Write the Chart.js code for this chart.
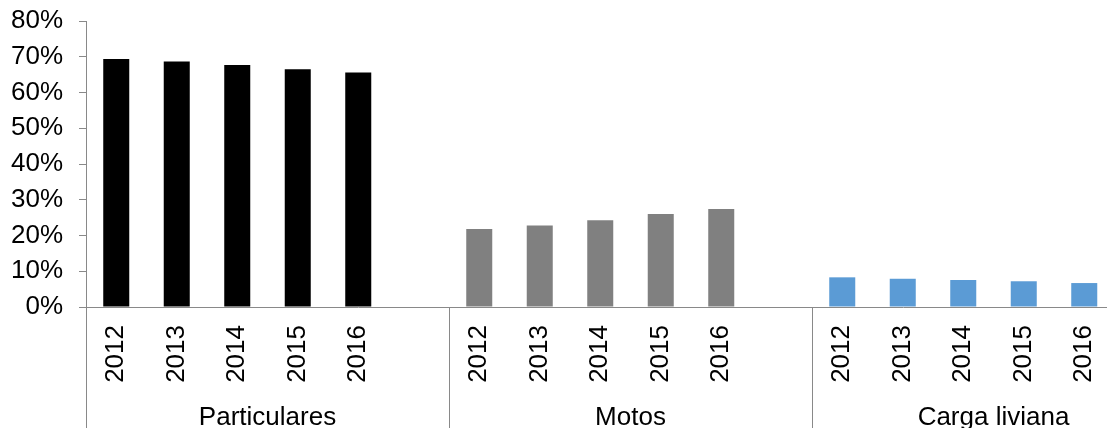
<!DOCTYPE html>
<html>
<head>
<meta charset="utf-8">
<script src="https://cdn.jsdelivr.net/npm/chart.js@4/dist/chart.umd.min.js"></script>
<style>
  html, body { margin: 0; padding: 0; background: #fff; overflow: hidden; }
  #wrap { width: 1175px; height: 428px; position: relative; }
</style>
</head>
<body>
<div id="wrap"><canvas id="c"></canvas></div>
<script>
const years = ['2012', '2013', '2014', '2015', '2016'];
const groups = ['Particulares', 'Motos', 'Carga liviana'];
const particulares = [69.4, 68.7, 67.7, 66.5, 65.6];
const motos = [21.8, 22.8, 24.3, 26.0, 27.4];
const cargaLiviana = [8.3, 7.9, 7.55, 7.2, 6.7];
const groupColors = ['#000000', '#808080', '#5B9BD5'];
const yTicks = [0, 10, 20, 30, 40, 50, 60, 70, 80];

const seriesByGroup = [particulares, motos, cargaLiviana];
const labels = [];
const values = [];
const colors = [];
seriesByGroup.forEach((s, g) => {
  years.forEach((y, i) => { labels.push(y); values.push(s[i]); colors.push(groupColors[g]); });
  labels.push(''); values.push(null); colors.push(groupColors[g]);
});

const axisGrey = '#898989';
const FONT = 'Liberation Sans, Arial, sans-serif';

new Chart(document.getElementById('c'), {
  type: 'bar',
  data: {
    labels: labels,
    datasets: [{
      data: values,
      backgroundColor: colors,
      borderWidth: 0,
      categoryPercentage: 1,
      barPercentage: 0.43
    }]
  },
  options: {
    responsive: true,
    maintainAspectRatio: false,
    animation: false,
    events: [],
    layout: { padding: { top: 21, right: 0, bottom: 0, left: 0 } },
    plugins: { legend: { display: false }, tooltip: { enabled: false } },
    scales: {
      x: {
        type: 'category',
        position: 'bottom',
        offset: true,
        border: { display: true, color: axisGrey, width: 1 },
        grid: {
          offset: true,
          drawOnChartArea: false,
          drawTicks: true,
          tickLength: 121,
          lineWidth: 1,
          color: (ctx) => (ctx.index !== undefined && ctx.index % 6 === 0) ? axisGrey : 'rgba(0,0,0,0)'
        },
        ticks: {
          autoSkip: false,
          maxRotation: 90,
          minRotation: 90,
          padding: -103,
          color: '#000',
          font: { family: FONT, size: 26 }
        },
        afterFit: (scale) => { scale.height = 80; scale.paddingLeft = 0; scale.paddingRight = 0; }
      },
      x2: {
        type: 'category',
        position: 'bottom',
        labels: groups,
        offset: true,
        border: { display: false },
        grid: { display: false, drawTicks: false },
        ticks: {
          autoSkip: false,
          maxRotation: 0,
          minRotation: 0,
          padding: 15,
          color: '#000',
          font: { family: FONT, size: 26 }
        },
        afterFit: (scale) => { scale.height = 41; scale.paddingLeft = 0; scale.paddingRight = 0; }
      },
      y: {
        min: 0,
        max: 80,
        border: { display: true, color: axisGrey, width: 1 },
        grid: { drawOnChartArea: false, drawTicks: true, tickLength: 7, color: axisGrey },
        afterBuildTicks: (scale) => { scale.ticks = yTicks.map(v => ({ value: v })); },
        ticks: {
          padding: 16,
          color: '#000',
          font: { family: FONT, size: 26 },
          callback: (v) => v + '%'
        },
        afterFit: (scale) => { scale.width = 86; scale.paddingTop = 0; scale.paddingBottom = 0; }
      }
    }
  }
});
</script>
</body>
</html>
